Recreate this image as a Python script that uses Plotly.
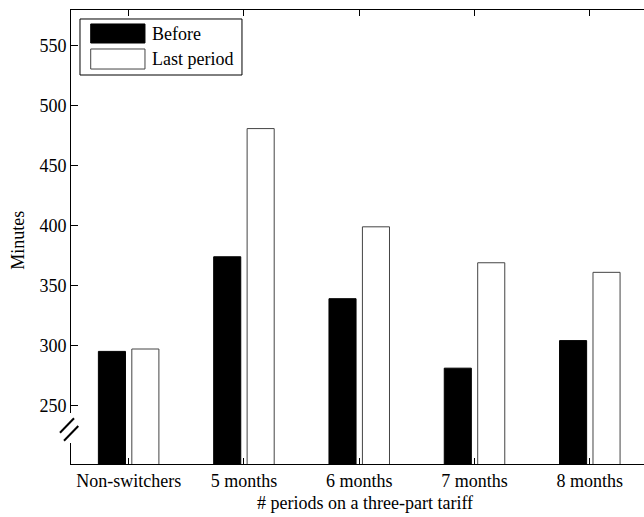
import plotly.graph_objects as go

categories = ["Non-switchers", "5 months", "6 months", "7 months", "8 months"]
before = [295, 374, 339, 281, 304]
last_period = [297, 481, 399, 369, 361]
series_names = ["Before", "Last period"]
y_tick_vals = [250, 300, 350, 400, 450, 500, 550]
x_title = "# periods on a three-part tariff"
y_title = "Minutes"

FONT = "'Liberation Serif', 'Times New Roman', serif"
FS = 18

fig = go.Figure()
fig.add_trace(go.Bar(x=categories, y=before, name=series_names[0],
                     marker=dict(color="black", line=dict(color="black", width=1)),
                     showlegend=False))
fig.add_trace(go.Bar(x=categories, y=last_period, name=series_names[1],
                     marker=dict(color="white", line=dict(color="#444", width=1)),
                     showlegend=False))

shapes = []
# axis break: white gap on left axis + two slashes
shapes.append(dict(type="rect", xref="paper", yref="paper", x0=-0.004, x1=0.004,
                   y0=0.0463, y1=0.1123, fillcolor="white", line=dict(width=0), layer="above"))
shapes.append(dict(type="line", xref="paper", yref="paper", x0=-0.0192, y0=0.0689,
                   x1=0.00524, y1=0.1007, line=dict(color="black", width=2), layer="above"))
shapes.append(dict(type="line", xref="paper", yref="paper", x0=-0.0122, y0=0.0513,
                   x1=0.0127, y1=0.0837, line=dict(color="black", width=2), layer="above"))
# custom legend
shapes.append(dict(type="rect", xref="paper", yref="paper", x0=0.0157, x1=0.2984,
                   y0=0.8568, y1=0.9802, fillcolor="white", line=dict(color="black", width=1),
                   layer="above"))
shapes.append(dict(type="rect", xref="paper", yref="paper", x0=0.0344, x1=0.1291,
                   y0=0.9273, y1=0.9692, fillcolor="black", line=dict(color="black", width=1),
                   layer="above"))
shapes.append(dict(type="rect", xref="paper", yref="paper", x0=0.0344, x1=0.1291,
                   y0=0.8700, y1=0.9141, fillcolor="white", line=dict(color="#444", width=1),
                   layer="above"))

annotations = [
    dict(text=series_names[0], xref="paper", yref="paper", x=0.1379, y=0.9482,
         xanchor="left", yanchor="middle", showarrow=False, font=dict(family=FONT, size=FS, color="black")),
    dict(text=series_names[1], xref="paper", yref="paper", x=0.1379, y=0.8921,
         xanchor="left", yanchor="middle", showarrow=False, font=dict(family=FONT, size=FS, color="black")),
    dict(text=y_title, xref="paper", yref="paper", x=-0.0916, y=0.493, textangle=-90,
         xanchor="center", yanchor="middle", showarrow=False, font=dict(family=FONT, size=FS, color="black")),
    dict(text=x_title, xref="paper", yref="paper", x=0.513, y=-0.087,
         xanchor="center", yanchor="middle", showarrow=False, font=dict(family=FONT, size=FS, color="black")),
]

fig.update_layout(
    width=644, height=517,
    margin=dict(l=71, r=0, t=10, b=53),
    paper_bgcolor="white", plot_bgcolor="white",
    barmode="group", bargap=0.42, bargroupgap=0.19,
    font=dict(family=FONT, size=FS, color="black"),
    xaxis=dict(range=[-0.5, 4.47], showline=True, linecolor="black", linewidth=1,
               mirror="ticks", ticks="inside", ticklen=6, tickcolor="black",
               showgrid=False, zeroline=False, tickfont=dict(family=FONT, size=FS, color="black")),
    yaxis=dict(range=[201, 580], tickvals=y_tick_vals, showline=True, linecolor="black",
               linewidth=1, mirror=False, ticks="inside", ticklen=7, tickcolor="black",
               showgrid=False, zeroline=False, tickfont=dict(family=FONT, size=FS, color="black")),
    yaxis2=dict(range=[201, 580], tickvals=y_tick_vals, overlaying="y", side="right",
                anchor="x", showline=False, ticks="inside", ticklen=3, tickcolor="black",
                showticklabels=False, showgrid=False, zeroline=False),
    shapes=shapes,
    annotations=annotations,
)

fig.write_html("out.html")
